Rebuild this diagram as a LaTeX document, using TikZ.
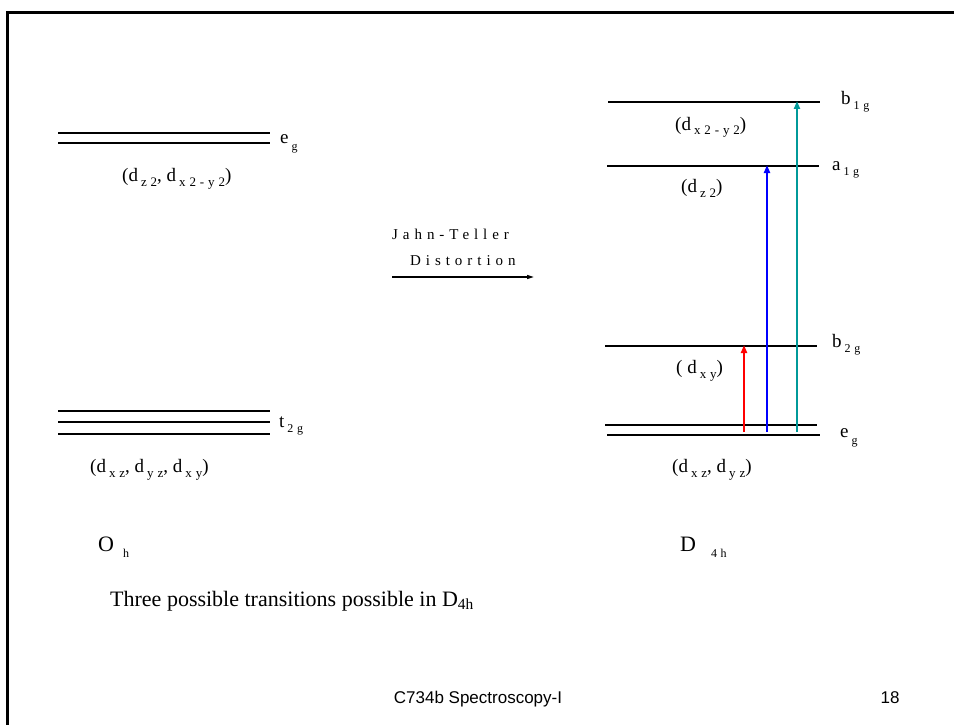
\documentclass[tikz,border=0pt]{standalone}
\usepackage{fontspec}
\setmainfont{Liberation Serif}
\newfontfamily\slidesans{Liberation Sans}
\newfontfamily\spacedserif{Liberation Serif}[LetterSpace=30]
\newfontfamily\widespaced{Liberation Serif}[LetterSpace=30]
\newfontfamily\titlespaced{Liberation Serif}[LetterSpace=33]
\usetikzlibrary{arrows.meta,positioning}
\definecolor{tealarrow}{rgb}{0,0.6,0.6}
% lowered, spaced subscripts as in the slide
\newcommand{\lowsub}[1]{\hspace{3pt}\raisebox{-5pt}{\fontsize{13}{13}\spacedserif #1}}
\newcommand{\lvlsub}[2][-5pt]{\hspace{3pt}\raisebox{#1}{\fontsize{12}{12}\widespaced #2}}

\begin{document}
\begin{tikzpicture}[
    x=1pt, y=-1pt,
    font=\fontsize{19}{21}\selectfont,
    level/.style={line width=2pt},
    frame/.style={line width=3pt},
    trans/.style={-{Triangle[length=8pt,width=6pt]}, line width=2.5pt},
    lbl/.style={anchor=base west, inner sep=0pt},
    sym/.style={lbl, font=\fontsize{22}{24}\selectfont}
  ]
    \useasboundingbox (0,0) rectangle (954,725);
    \draw[frame] (7,725) -- (7,13) -- (954,13);

    % O_h levels
    \draw[level] (58,133) -- (270,133);
    \draw[level] (58,143) -- (270,143);
    \node[lbl] (ohEg) at (280,143) {e\lvlsub[-7pt]{g}};
    \node[lbl] (ohEgOrb) at (122,181) {(d\lowsub{z2}, d\lowsub{x2-y2})};
    \draw[level] (58,411) -- (270,411);
    \draw[level] (58,422) -- (270,422);
    \draw[level] (58,434) -- (270,434);
    \node[lbl] (ohT) at (279,427) {t\lvlsub{2g}};
    \node[lbl] (ohTOrb) at (90,472) {(d\lowsub{xz}, d\lowsub{yz}, d\lowsub{xy})};
    \node[sym] (oh) at (98,551) {O\hspace{6pt}\lvlsub[-6pt]{h}};

    % distortion
    \node[lbl, font=\fontsize{15}{17}\titlespaced] (jt) at (392,239) {Jahn-Teller};
    \node[lbl, font=\fontsize{15}{17}\titlespaced] (dist) at (410,265) {Distortion};
    \coordinate (jtL) at (392,277);
    \coordinate (jtR) at (534,277);
    \draw[-{Triangle[length=7pt,width=4pt]}, line width=1.3pt] (jtL) -- (jtR);

    % D_4h levels
    \draw[level] (608,102) -- (820,102);
    \node[lbl] (b1g) at (841,105) {b\lvlsub{1g}};
    \node[lbl] (b1gOrb) at (675,130) {(d\lowsub{x2-y2})};
    \draw[level] (607,166) -- (819,166);
    \node[lbl] (a1g) at (832,170) {a\lvlsub{1g}};
    \node[lbl] (a1gOrb) at (681,192) {(d\lowsub{z2})};
    \draw[level] (605,346) -- (817,346);
    \node[lbl] (b2g) at (832,347) {b\lvlsub{2g}};
    \node[lbl] (b2gOrb) at (676,373) {( d\lowsub{xy})};
    \draw[level] (605,425) -- (817,425);
    \draw[level] (607,435) -- (820,435);
    \node[lbl] (d4Eg) at (840,437) {e\lvlsub[-7pt]{g}};
    \node[lbl] (d4EgOrb) at (672,472) {(d\lowsub{xz}, d\lowsub{yz})};
    \node[sym] (d4h) at (680,551) {D\hspace{12pt}\lvlsub[-6pt]{4h}};

    % transitions
    \coordinate (redFoot) at (744,432);
    \coordinate (redHead) at (744,345);
    \coordinate (blueFoot) at (767,432);
    \coordinate (blueHead) at (767,165);
    \coordinate (tealFoot) at (797,432);
    \coordinate (tealHead) at (797,101);
    \draw[trans, red] (redFoot) -- (redHead);
    \draw[trans, blue] (blueFoot) -- (blueHead);
    \draw[trans, tealarrow] (tealFoot) -- (tealHead);

    \node[lbl, font=\fontsize{22}{24}\selectfont] (note) at (110,606) {Three possible transitions possible in D\textsubscript{4h}};
    \node[anchor=base, inner sep=0pt, font=\fontsize{17}{19}\slidesans] (footer) at (478,703) {C734b Spectroscopy-I};
    \node[anchor=base, inner sep=0pt, font=\fontsize{17}{19}\slidesans] (page) at (890,703) {18};
\end{tikzpicture}
\end{document}
